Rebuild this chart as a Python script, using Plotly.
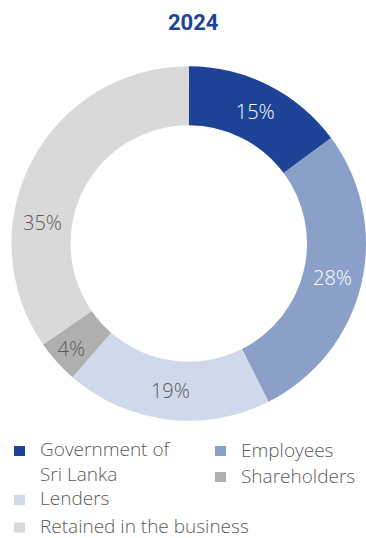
import math
import plotly.graph_objects as go

title = "2024"
labels = ["Government of<br>Sri Lanka", "Employees", "Lenders", "Shareholders", "Retained in the business"]
values = [15, 28, 19, 4, 35]
colors = ["#1c4396", "#8aa0c9", "#d0d9ea", "#afafaf", "#d9d9d9"]
text_colors = ["#ffffff", "#ffffff", "#5a5a5a", "#5a5a5a", "#5a5a5a"]

W, H = 366, 538
cx, cy, r = 189, 243.5, 177.5
hole = 0.667
FONT = "Open Sans"

# the last slice's label sits earlier in its slice than the mid-angle
last_label_frac = 0.345

texts = ["%d%%" % v for v in values]
fig = go.Figure(go.Pie(
    labels=labels,
    values=values,
    hole=hole,
    sort=False,
    direction="clockwise",
    rotation=0,
    marker=dict(colors=colors, line=dict(width=0)),
    text=texts[:-1] + [""],
    texttemplate="%{text}",
    textposition="inside",
    insidetextorientation="horizontal",
    textfont=dict(family=FONT, size=20, color=text_colors, weight=300),
    domain=dict(x=[(cx - r) / W, min(1.0, (cx + r) / W)],
                y=[1 - (cy + r) / H, 1 - (cy - r) / H]),
    showlegend=False,
    hoverinfo="label+percent",
))

annotations = [dict(text="<b>" + title + "</b>", x=193 / W, y=1 - 22 / H, xref="paper", yref="paper",
                    showarrow=False, font=dict(family="Roboto", size=22, color="#1c4396"),
                    xanchor="center", yanchor="middle")]

# label for the last slice
total = sum(values)
start = sum(values[:-1]) / total
ang = 2 * math.pi * (start + last_label_frac * values[-1] / total)
rm = r * (1 + hole) / 2
annotations.append(dict(text=texts[-1], x=(cx + rm * math.sin(ang)) / W, y=1 - (cy - rm * math.cos(ang)) / H,
                        xref="paper", yref="paper", showarrow=False, xanchor="center", yanchor="middle",
                        font=dict(family=FONT, size=20, color=text_colors[-1], weight=300)))

# manual legend (two columns): square x, square centre y, text centre y
leg_pos = [(14, 451, 461), (215, 451, 450), (14, 500, 498), (215, 477, 475.5), (14, 527.5, 526)]
shapes = []
sq_w, sq_h = 11, 10
for lab, col, (sx, sy, ty) in zip(labels, colors, leg_pos):
    shapes.append(dict(type="rect", xref="paper", yref="paper",
                       x0=sx / W, x1=(sx + sq_w) / W, y0=1 - (sy + sq_h / 2) / H, y1=1 - (sy - sq_h / 2) / H,
                       fillcolor=col, line=dict(width=0)))
    annotations.append(dict(text=lab, x=(sx + 24) / W, y=1 - ty / H, xref="paper", yref="paper",
                            showarrow=False, xanchor="left", yanchor="middle", align="left",
                            font=dict(family=FONT, size=19, color="#5a5a5a", weight=300)))

fig.update_layout(
    width=W, height=H,
    margin=dict(l=0, r=0, t=0, b=0),
    paper_bgcolor="white",
    plot_bgcolor="white",
    annotations=annotations,
    shapes=shapes,
)

fig.write_html("out.html", config={"displayModeBar": False},
               post_script="document.body.style.margin='0';document.body.style.overflow='hidden';")
